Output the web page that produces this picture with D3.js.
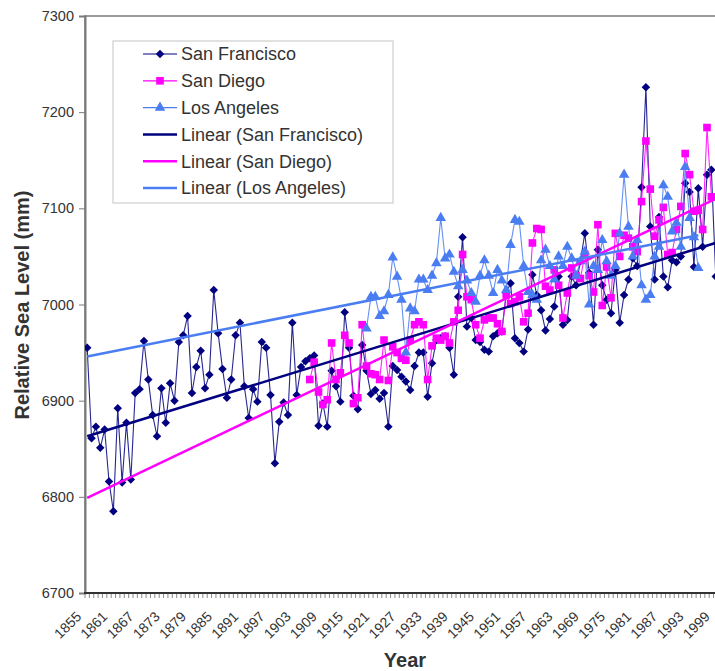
<!DOCTYPE html>
<html lang="en">
<head>
<meta charset="UTF-8">
<title>Relative Sea Level - San Francisco, San Diego, Los Angeles</title>
<script src="https://d3js.org/d3.v7.min.js"></script>
<style>
  body { margin: 0; background: #fff; }
  text { font-family: "Liberation Sans", Arial, sans-serif; fill: #333; }
</style>
</head>
<body>
<script>
// categories
var years = d3.range(1855, 2000);
var tickLabels = ["1855","1861","1867","1873","1879","1885","1891","1897","1903","1909",
                  "1915","1921","1927","1933","1939","1945","1951","1957","1963","1969",
                  "1975","1981","1987","1993","1999"];
var yTicks = [6700, 6800, 6900, 7000, 7100, 7200, 7300];

// San Francisco, 1855 - 1999
var sfStart = 1855;
var sfValues = [
  6955, 6861, 6873, 6851, 6870, 6816, 6785, 6892, 6815, 6877,   // 1855
  6818, 6908, 6912, 6962, 6922, 6885, 6863, 6913, 6877, 6918,   // 1865
  6900, 6961, 6968, 6988, 6908, 6935, 6952, 6913, 6927, 7015,   // 1875
  6970, 6933, 6903, 6922, 6968, 6981, 6915, 6882, 6912, 6899,   // 1885
  6961, 6955, 6906, 6835, 6878, 6898, 6885, 6981, 6906, 6935,   // 1895
  6941, 6944, 6947, 6874, 6897, 6873, 6931, 6915, 6899, 6992,   // 1905
  6955, 6905, 6891, 6958, 6931, 6907, 6911, 6902, 6908, 6873,   // 1915
  6936, 6932, 6925, 6920, 6911, 6936, 6950, 6950, 6904, 6939,   // 1925
  6963, 6965, 6967, 6955, 6927, 7008, 7070, 6977, 6986, 6963,   // 1935
  6961, 6953, 6951, 6967, 6970, 6972, 7012, 7022, 6965, 6960,   // 1945
  6951, 6974, 7031, 7010, 6994, 6973, 6985, 6998, 7029, 6979,   // 1955
  6984, 7029, 7020, 7045, 7074, 7033, 6979, 7057, 7020, 7005,   // 1965
  6991, 7036, 6981, 7010, 7026, 7048, 7040, 7122, 7226, 7081,   // 1975
  7026, 7091, 7029, 7018, 7046, 7044, 7050, 7126, 7117, 7039,   // 1985
  7121, 7060, 7135, 7140, 7029                                  // 1995
];

// San Diego, 1906 - 1998
var sdStart = 1906;
var sdValues = [
  6922, 6940, 6909, 6896, 6901, 6960, 6922, 6929, 6968, 6960,   // 1906
  6897, 6903, 6979, 6936, 6928, 6927, 6922, 6963, 6921, 6956,   // 1916
  6950, 6944, 6942, 6963, 6979, 6982, 6979, 6922, 6957, 6965,   // 1926
  6963, 6967, 6960, 6982, 6994, 7052, 7008, 7005, 6979, 6965,   // 1936
  6984, 6986, 6986, 6980, 6972, 7010, 7001, 7003, 7008, 6982,   // 1946
  6991, 7064, 7079, 7078, 7019, 7015, 7036, 7020, 6986, 7012,   // 1956
  7038, 7030, 7027, 7052, 7030, 7013, 7083, 6999, 7039, 7007,   // 1966
  7074, 7050, 7072, 7069, 7060, 7055, 7107, 7170, 7120, 7071,   // 1976
  7088, 7101, 7052, 7054, 7078, 7102, 7157, 7135, 7097, 7098,   // 1986
  7078, 7184, 7112                                              // 1996
];

// Los Angeles, 1919 - 1995
var laStart = 1919;
var laValues = [
  6975, 7008, 7008, 6988, 6993, 7010, 7049, 7029, 7005, 6950,   // 1919
  6996, 6993, 7026, 7026, 7015, 7030, 7043, 7090, 7048, 7052,   // 1929
  7034, 7019, 7036, 7025, 7012, 7003, 7030, 7046, 7030, 7012,   // 1939
  7036, 7025, 7015, 7062, 7088, 7086, 7040, 7013, 7010, 7005,   // 1949
  7046, 7057, 7040, 7026, 7050, 7040, 7060, 7048, 7030, 7045,   // 1959
  7055, 7000, 7040, 7036, 7067, 7045, 7030, 7040, 7074, 7135,   // 1969
  7081, 7050, 7067, 7020, 7005, 7010, 7050, 7060, 7124, 7112,   // 1979
  7076, 7085, 7060, 7143, 7090, 7070, 7038                      // 1989
];

// linear trend lines (end points as drawn)
var sfTrend = [[1855, 6863], [1999, 7064]];
var sdTrend = [[1855, 6799], [1999, 7110]];
var laTrend = [[1855, 6946], [1995, 7072]];

var width = 715, height = 671;
var plotLeft = 85, plotTop = 16, plotBottom = 593;
var step = 4.365;

var svg = d3.select("body").append("svg")
    .attr("width", width)
    .attr("height", height);

var x = d3.scaleBand()
    .domain(years)
    .range([plotLeft, plotLeft + years.length * step]);
var bw = x.bandwidth();
function xc(yr) { return x(yr) + bw / 2; }

var y = d3.scaleLinear()
    .domain([6700, 7300])
    .range([plotBottom, plotTop]);

// plot area border
svg.append("rect")
    .attr("x", plotLeft).attr("y", plotTop)
    .attr("width", 720 - plotLeft).attr("height", plotBottom - plotTop)
    .attr("fill", "none")
    .attr("stroke", "#9a9a9a")
    .attr("stroke-width", 2);

// y axis
var yAxis = svg.append("g")
    .attr("transform", "translate(" + plotLeft + ",0)")
    .call(d3.axisLeft(y).tickValues(yTicks).tickSize(6).tickPadding(5).tickFormat(d3.format("d")));
yAxis.select(".domain").attr("stroke", "#7a7a7a").attr("stroke-width", 2);
yAxis.selectAll(".tick line").attr("stroke", "#7a7a7a");
yAxis.selectAll("text").style("font-size", "14.5px").attr("fill", "#333");

// x axis: a tick at every category boundary, label every 6 years
var xAxis = svg.append("g");
xAxis.selectAll("line.tk")
    .data(years.concat([2000]))
    .enter().append("line")
    .attr("class", "tk")
    .attr("x1", function(d){ return d < 2000 ? x(d) : x(1999) + bw; })
    .attr("x2", function(d){ return d < 2000 ? x(d) : x(1999) + bw; })
    .attr("y1", plotBottom).attr("y2", plotBottom + 5)
    .attr("stroke", "#8a8a8a").attr("stroke-width", 1);
xAxis.append("line")
    .attr("x1", plotLeft - 1).attr("x2", 720)
    .attr("y1", plotBottom).attr("y2", plotBottom)
    .attr("stroke", "#333").attr("stroke-width", 2);
xAxis.selectAll("text")
    .data(tickLabels)
    .enter().append("text")
    .attr("transform", function(d){ return "translate(" + (xc(+d) - 8.5) + "," + (plotBottom + 21) + ") rotate(-45)"; })
    .attr("text-anchor", "end")
    .attr("dy", "0.35em")
    .style("font-size", "14px")
    .text(function(d){ return d; });

// axis titles
svg.append("text")
    .attr("transform", "translate(29,305) rotate(-90)")
    .attr("text-anchor", "middle")
    .style("font-size", "20px").style("font-weight", "bold").attr("fill", "#111")
    .text("Relative Sea Level (mm)");
svg.append("text")
    .attr("x", 405).attr("y", 667)
    .attr("text-anchor", "middle")
    .style("font-size", "20px").style("font-weight", "bold").attr("fill", "#111")
    .text("Year");

var sfColor = "#000080", sdColor = "#ff00ff", laColor = "#4a7df2";

function toPoints(start, vals) {
  return vals.map(function(v, i){ return [start + i, v]; });
}

var line = d3.line()
    .x(function(d){ return xc(d[0]); })
    .y(function(d){ return y(d[1]); });

var diamond = d3.symbol().type(d3.symbolSquare).size(36);
var square = d3.symbol().type(d3.symbolSquare).size(58);
var triangle = d3.symbol().type(d3.symbolTriangle).size(48);

var series = [
  {name: "San Francisco", color: sfColor, pts: toPoints(sfStart, sfValues), sym: diamond, rot: 45},
  {name: "San Diego", color: sdColor, pts: toPoints(sdStart, sdValues), sym: square, rot: 0},
  {name: "Los Angeles", color: laColor, pts: toPoints(laStart, laValues), sym: triangle, rot: 0}
];

svg.append("defs").append("clipPath").attr("id", "plotclip")
  .append("rect").attr("x", plotLeft).attr("y", plotTop)
  .attr("width", 720 - plotLeft).attr("height", plotBottom - plotTop);

var plot = svg.append("g").attr("clip-path", "url(#plotclip)");

series.forEach(function(s){
  plot.append("path")
      .datum(s.pts)
      .attr("d", line)
      .attr("fill", "none")
      .attr("stroke", s.color)
      .attr("stroke-width", 1.1)
      .attr("stroke-opacity", 0.85);
  plot.selectAll(null)
      .data(s.pts)
      .enter().append("path")
      .attr("d", s.sym)
      .attr("transform", function(d){ return "translate(" + xc(d[0]) + "," + y(d[1]) + ") rotate(" + s.rot + ")"; })
      .attr("fill", s.color);
});

var trends = [
  {name: "Linear (San Francisco)", color: sfColor, pts: sfTrend},
  {name: "Linear (San Diego)", color: sdColor, pts: sdTrend},
  {name: "Linear (Los Angeles)", color: laColor, pts: laTrend}
];
trends.forEach(function(t){
  plot.append("path")
      .datum(t.pts)
      .attr("d", line)
      .attr("fill", "none")
      .attr("stroke", t.color)
      .attr("stroke-width", 2.5);
});

// legend
var legend = svg.append("g");
legend.append("rect")
    .attr("x", 113).attr("y", 41)
    .attr("width", 280).attr("height", 162)
    .attr("fill", "#fff")
    .attr("stroke", "#c4c4c4").attr("stroke-width", 1);

var items = series.map(function(s){ return {name: s.name, color: s.color, sym: s.sym, rot: s.rot, w: 1.2}; })
  .concat(trends.map(function(t){ return {name: t.name, color: t.color, sym: null, w: 2.5}; }));

items.forEach(function(it, i){
  var cy = 54 + i * 26.8;
  var g = legend.append("g");
  g.append("line")
      .attr("x1", 143).attr("x2", 177)
      .attr("y1", cy).attr("y2", cy)
      .attr("stroke", it.color).attr("stroke-width", it.w);
  if (it.sym) {
    g.append("path")
        .attr("d", it.sym)
        .attr("transform", "translate(160," + cy + ") rotate(" + it.rot + ")")
        .attr("fill", it.color);
  }
  g.append("text")
      .attr("x", 181).attr("y", cy)
      .attr("dy", "0.36em")
      .style("font-size", "18px")
      .text(it.name);
});
</script>
</body>
</html>
